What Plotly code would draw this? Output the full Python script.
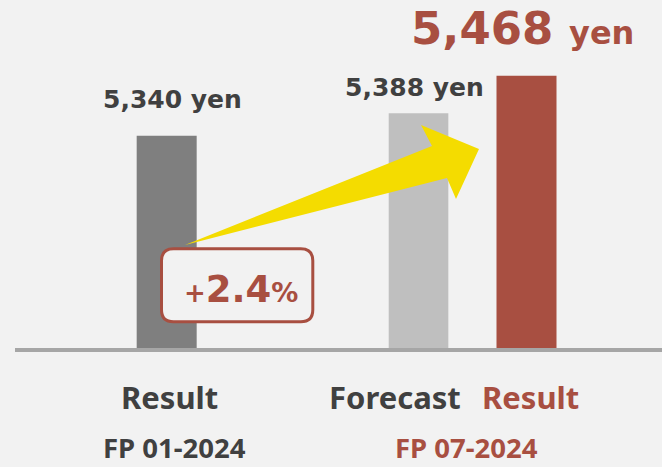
import plotly.graph_objects as go

# ---- data ----
periods = ["FP 01-2024", "FP 07-2024", "FP 07-2024"]
kinds = ["Result", "Forecast", "Result"]
values = [5340, 5388, 5468]
unit = "yen"
pct_change = (values[2] - values[0]) / values[0] * 100

# ---- styling ----
BG = "#f2f2f2"
DARK = "#404040"
RED = "#a84f41"
bar_colors = ["#7f7f7f", "#bfbfbf", RED]
bar_widths = [0.1962, 0.195, 0.1962]
bar_offsets = [-0.0981, -0.274, 0.0785]

# plot-area geometry in pixels (for paper-coordinate helpers)
FIG_W, FIG_H = 662, 467
L, B = 15, 348
W, H = FIG_W - L, B


def P(x, y):
    return (x - L) / W, (B - y) / H


fig = go.Figure()
for i in range(len(values)):
    fig.add_trace(go.Bar(
        x=[periods[i]], y=[values[i]], name=kinds[i],
        width=bar_widths[i], offset=bar_offsets[i],
        marker=dict(color=bar_colors[i], line=dict(width=0)),
        showlegend=False, hoverinfo="skip",
    ))

# y scale: px per yen and bottom value
s = 0.46875
v0 = 4887.2
yrange = [v0, v0 + H / s]

shapes = []
# yellow arrow
arrow_pts = [(185, 245), (432, 146), (421, 125), (479, 149), (456, 199), (447, 178)]
path = "M " + " L ".join("%f,%f" % P(x, y) for x, y in arrow_pts) + " Z"
shapes.append(dict(type="path", xref="paper", yref="paper", path=path,
                   fillcolor="#f4dc00", line=dict(width=0), layer="above"))

# rounded box
bx0, bx1, by0, by1, r = 161.5, 312.8, 248.8, 321.8, 12


def pt(x, y):
    return "%f,%f" % P(x, y)


box = ("M " + pt(bx0 + r, by0) + " L " + pt(bx1 - r, by0) +
       " Q " + pt(bx1, by0) + " " + pt(bx1, by0 + r) +
       " L " + pt(bx1, by1 - r) +
       " Q " + pt(bx1, by1) + " " + pt(bx1 - r, by1) +
       " L " + pt(bx0 + r, by1) +
       " Q " + pt(bx0, by1) + " " + pt(bx0, by1 - r) +
       " L " + pt(bx0, by0 + r) +
       " Q " + pt(bx0, by0) + " " + pt(bx0 + r, by0) + " Z")
shapes.append(dict(type="path", xref="paper", yref="paper", path=box,
                   fillcolor=BG, line=dict(color=RED, width=3), layer="above"))

ann = []


def add_text(text, x, y, size, color, family, yanchor="middle"):
    px, py = P(x, y)
    ann.append(dict(text=text, x=px, y=py, xref="paper", yref="paper",
                    xanchor="center", yanchor=yanchor, showarrow=False,
                    borderpad=0,
                    font=dict(family=family, size=size, color=color)))


DV = "DejaVu Sans"
NS = "Noto Sans"
add_text(f"<b>{values[0]:,} {unit}</b>", 172.2, 99.5, 25, DARK, DV)
add_text(f"<b>{values[1]:,} {unit}</b>", 414.5, 87.8, 25, DARK, DV)
add_text(f"<b>{values[2]:,} <span style='font-size:32px'>{unit}</span></b>",
         522, 28, 45, RED, DV)
add_text(f"<b><span style='font-size:26px'>+</span>{pct_change:.1f}"
         f"<span style='font-size:27px'>%</span></b>", 240.5, 289.5, 37, RED, DV)

add_text(f"<b>{kinds[0]}</b>", 169.5, 396.5, 31, DARK, NS)
add_text(f"<b>{kinds[1]}</b>", 395, 396.5, 31, DARK, NS)
add_text(f"<b>{kinds[2]}</b>", 530.5, 396.5, 31, RED, NS)
add_text(f"<b>{periods[0]}</b>", 174.5, 466.5, 27.5, DARK, NS, "bottom")
add_text(f"<b>{periods[1]}</b>", 466.3, 466.5, 27.5, RED, NS, "bottom")

fig.update_layout(
    width=FIG_W, height=FIG_H,
    margin=dict(l=L, r=0, t=0, b=FIG_H - B, pad=0),
    paper_bgcolor=BG, plot_bgcolor=BG,
    barmode="overlay",
    shapes=shapes, annotations=ann,
    xaxis=dict(type="category", range=[-0.496, 1.6197], showgrid=False,
               zeroline=False, showticklabels=False, ticks="",
               showline=True, linecolor="#a6a6a6", linewidth=3.5,
               fixedrange=True),
    yaxis=dict(range=yrange, visible=False, fixedrange=True),
)

fig.write_html(
    "out.html",
    config={"displayModeBar": False},
    post_script="document.body.style.margin='0';document.body.style.overflow='hidden';",
)
